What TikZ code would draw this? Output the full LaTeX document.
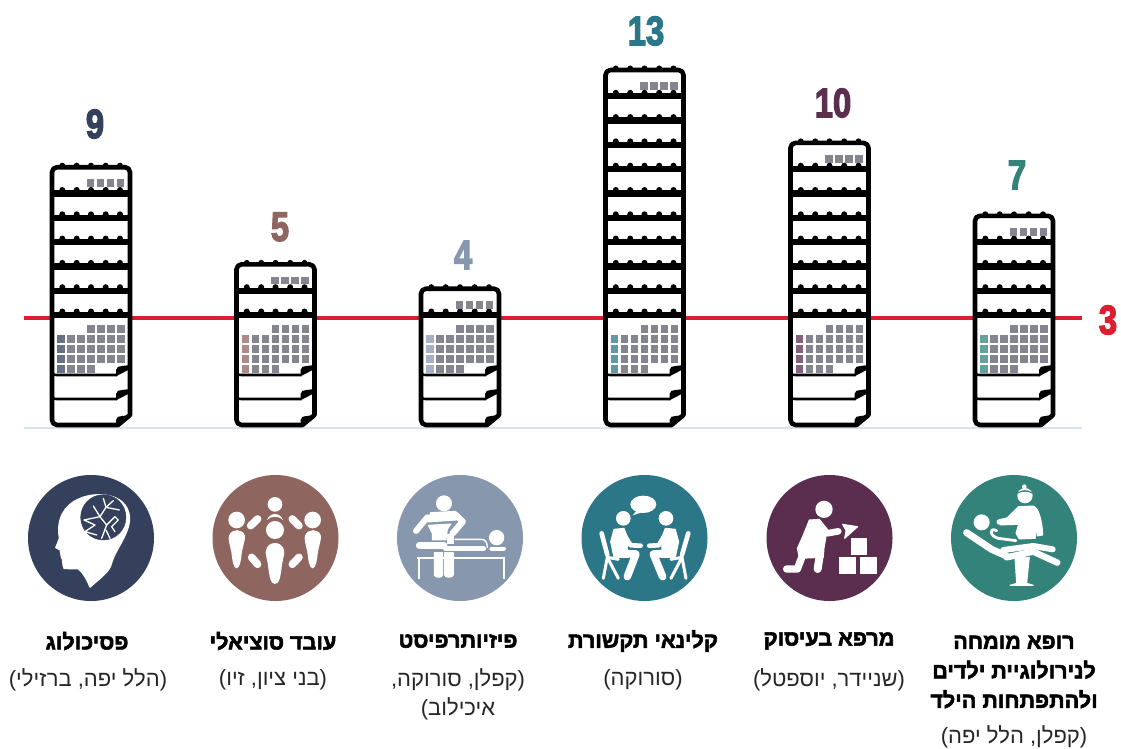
\documentclass[tikz,border=0pt]{standalone}
\usepackage{fontspec}
\TeXXeTstate=1
\newfontfamily\hebb[Script=Hebrew,FakeBold=2.5]{Liberation Sans Bold}
\newfontfamily\hebr[Script=Hebrew]{Liberation Sans}
\newfontfamily\numf[FakeBold=3.5]{Liberation Sans Bold}
\newcommand{\rl}[1]{\beginR #1\endR}
\definecolor{cnavy}{HTML}{34405C}
\definecolor{cbrown}{HTML}{8F6560}
\definecolor{cslate}{HTML}{8797AE}
\definecolor{cteal}{HTML}{2B7788}
\definecolor{cplum}{HTML}{5B2E4F}
\definecolor{cgreen}{HTML}{33837A}
\definecolor{cred}{HTML}{DC1F30}
\definecolor{cbase}{HTML}{D5E3EC}
\definecolor{cgray}{HTML}{85858F}
\tikzset{
  x=1pt,y=-1pt,
  ink/.style={line width=4.6pt,draw=black,line join=round},
  barline/.style={line width=6.4pt,draw=black,line cap=butt},
  cell/.style={minimum size=7.6pt,inner sep=0pt,outer sep=0pt,fill=cgray},
  disc/.style={circle,minimum size=126pt,inner sep=0pt},
  headlabel/.style={font=\hebb\fontsize{21.6}{29.5}\selectfont,align=center,text=black},
  sublabel/.style={font=\hebr\fontsize{22}{29}\selectfont,align=center,text=black!85},
  bignum/.style={font=\numf\fontsize{41}{41}\selectfont},
  wf/.style={fill=white,draw=white,line width=1pt,line join=round},
  wl/.style={draw=white,line cap=round,line join=round},
  zm/.style={x=.3333pt,y=-.3333pt},
}
% \stack{centre x}{count}{colour}
\newcommand{\stack}[3]{%
 \begin{scope}[shift={(#1,0)}]
  \pgfmathsetmacro{\T}{315-(#2-3)*24.3-2}
  \filldraw[ink,fill=white] (27,425) [rounded corners=5pt] -- (-39,425) -- (-39,\T) -- (39,\T) [sharp corners] -- (39,415) -- cycle;
  \foreach \ox in {-28.7,-14.3,0,14.7,29}{\fill (\ox,\T-1.5) circle[radius=3];}
  \pgfmathtruncatemacro{\nb}{#2-4}
  \foreach \k in {0,...,\nb}{
    \pgfmathsetmacro{\Y}{315-\k*24.3}
    \draw[barline] (-39,\Y) -- (39,\Y);
    \foreach \ox in {-28.7,-14.3,0,14.7,29}{\fill (\ox,\Y-3.5) circle[radius=3];}
  }
  \foreach \ox in {-.5,9.5,19.5,29.5}{\node[cell] at (\ox,\T+16) {};}
  % calendar grid
  \foreach \row/\a/\b in {329/4/7,339/1/7,349/1/7,359/1/7,369/1/4}{
    \foreach \c in {\a,...,\b}{
      \pgfmathsetmacro{\cxx}{-30+(\c-1)*10}
      \ifnum\c=1
        \node[cell,fill=#3!75!white] at (\cxx,\row) {};
      \else
        \node[cell] at (\cxx,\row) {};
      \fi
    }
  }
  % curled pages
  \foreach \yy in {375,399}{
    \draw[line width=2.6pt] (-39,\yy-5) .. controls (-39,\yy-1) and (-38,\yy) .. (-34,\yy) -- (26,\yy);
    \fill (25,\yy+1.3) -- (25,\yy-5) .. controls (25,\yy-8) and (28,\yy-9) .. (31,\yy-9) -- (39,\yy-10) -- (39,\yy-6) -- cycle;
  }
  \fill (25,427) -- (25,420) .. controls (25,417) and (28,416) .. (31,416) -- (39,415) -- (39,418) -- cycle;
 \end{scope}}
\begin{document}
\begin{tikzpicture}
\useasboundingbox[fill=white] (0,0) rectangle (1121,749);
\draw[cbase,line width=2pt] (24,428) -- (1082,428);
\draw[cred,line width=3.6pt] (24,318) -- (1082,318);
\stack{91}{9}{cnavy}
\stack{275.5}{5}{cbrown}
\stack{460}{4}{cslate}
\stack{644.5}{13}{cteal}
\stack{829.5}{10}{cplum}
\stack{1014}{7}{cgreen}
% numbers
\node[bignum,text=cnavy] (n1) at (95,124) {\scalebox{.8}[1]{9}};
\node[bignum,text=cbrown] (n2) at (280,227) {\scalebox{.8}[1]{5}};
\node[bignum,text=cslate] (n3) at (463,255) {\scalebox{.8}[1]{4}};
\node[bignum,text=cteal] (n4) at (646,31) {\scalebox{.8}[1]{13}};
\node[bignum,text=cplum] (n5) at (833,103) {\scalebox{.8}[1]{10}};
\node[bignum,text=cgreen] (n6) at (1017,175) {\scalebox{.8}[1]{7}};
\node[bignum,text=cred] (nr) at (1108,320) {\scalebox{.8}[1]{3}};
% discs
\node[disc,fill=cnavy] (d1) at (91,538) {};
\node[disc,fill=cbrown] (d2) at (275.5,538) {};
\node[disc,fill=cslate] (d3) at (460,538) {};
\node[disc,fill=cteal] (d4) at (644.5,538) {};
\node[disc,fill=cplum] (d5) at (829.5,538) {};
\node[disc,fill=cgreen] (d6) at (1014,538) {};
% icon 1: head with brain
\begin{scope}[shift={(0,470)},zm]
 \filldraw[wf] (270,352) .. controls (258,322) and (245,305) .. (235,297) -- (192,296) .. controls (186,285) and (190,268) .. (184,262)
   -- (180,240) -- (167,233) -- (178,205) .. controls (168,150) and (190,105) .. (240,85) .. controls (285,65) and (380,65) .. (389,140)
   .. controls (392,190) and (345,240) .. (335,280) .. controls (330,305) and (300,325) .. (270,352) -- cycle;
 \filldraw[fill=cnavy,draw=cnavy,line width=.4pt] (310,142) circle[radius=68];
 \draw[wl,line width=1.3pt] (310,85) -- (318,112) -- (300,140) -- (280,108);
 \draw[wl,line width=1.3pt] (318,112) -- (340,92);
 \draw[wl,line width=1.3pt] (318,112) -- (358,120);
 \draw[wl,line width=1.3pt] (300,140) -- (252,150) -- (285,165) -- (255,185) -- (290,195);
 \draw[wl,line width=1.3pt] (300,140) -- (320,165) -- (305,205);
 \draw[wl,line width=1.3pt] (320,165) -- (345,140) -- (355,150) -- (335,170) -- (345,185);
 \draw[wl,line width=1.3pt] (318,180) -- (330,205);
\end{scope}
% icon 2: group
\begin{scope}[shift={(0,470)},zm]
 \fill[white] (825,103) circle[radius=22];
 \fill[white] (801,150) .. controls (810,126) and (840,126) .. (849,150) .. controls (838,137) and (812,137) .. (801,150) -- cycle;
 \fill[white] (825,180) circle[radius=27];
 \fill[white] (825,342) .. controls (812,342) and (808,320) .. (804,285) .. controls (800,260) and (795,250) .. (798,240) .. controls (805,212) and (845,212) .. (852,240) .. controls (855,250) and (850,260) .. (846,285) .. controls (842,320) and (838,342) .. (825,342) -- cycle;
 \fill[white] (710,150) circle[radius=25];
 \fill[white] (938,150) circle[radius=25];
 \fill[white] (710,295) .. controls (700,295) and (697,270) .. (694,245) .. controls (688,220) and (684,205) .. (687,197) .. controls (695,175) and (727,175) .. (735,197) .. controls (737,205) and (730,225) .. (726,245) .. controls (723,270) and (720,295) .. (710,295) -- cycle;
 \fill[white] (938,295) .. controls (928,295) and (925,270) .. (922,245) .. controls (916,220) and (912,205) .. (915,197) .. controls (923,175) and (955,175) .. (963,197) .. controls (965,205) and (958,225) .. (954,245) .. controls (951,270) and (948,295) .. (938,295) -- cycle;
 \draw[wl,line width=7.6pt] (752,167) -- (773,147);
 \draw[wl,line width=7.6pt] (877,147) -- (897,167);
 \draw[wl,line width=7.6pt] (755,262) -- (773,283);
 \draw[wl,line width=7.6pt] (877,283) -- (897,262);
\end{scope}
% icon 3: physiotherapist
\begin{scope}[shift={(370,470)},zm]
 \fill[white] (222,100) circle[radius=24];
 \filldraw[wf] (182,128) -- (258,124) -- (258,150) -- (172,156) -- cycle;
 \draw[wl,line width=6pt] (172,142) -- (138,183);
 \draw[wl,line width=6.4pt] (255,133) -- (278,155) -- (248,190);
 \filldraw[wf] (175,166) -- (243,162) -- (232,178) -- (228,210) -- (187,210) -- (187,190) -- cycle;
 \draw[wl,line width=7pt] (148,226) -- (222,226);
 \filldraw[wf] (232,195) -- (250,195) -- (250,222) -- (232,222) -- cycle;
 \fill[white] (380,203) circle[radius=23];
 \draw[wl,line width=5.6pt] (227,236) -- (340,236);
 \draw[wl,line width=1.4pt] (255,208) -- (335,208) .. controls (347,208) and (352,220) .. (352,232);
 \draw[wl,line width=4pt] (364,236) -- (402,236);
 \draw[draw=white,line width=2pt] (142,264) -- (405,264);
 \draw[draw=white,line width=2.2pt] (146,264) -- (146,327);
 \draw[draw=white,line width=2.2pt] (401,264) -- (401,327);
 \filldraw[wf] (193,248) -- (218,248) -- (218,315) .. controls (218,324) and (193,324) .. (193,315) -- cycle;
 \filldraw[wf] (224,248) -- (250,248) -- (250,315) .. controls (250,324) and (224,324) .. (224,315) -- cycle;
\end{scope}
% icon 4: two people talking
\begin{scope}[shift={(370,470)},zm]
 \fill[white] (820,103) ellipse[x radius=39,y radius=26];
 \fill[white] (800,122) -- (788,136) -- (815,127) -- cycle;
 \fill[white] (760,145) circle[radius=22];
 \fill[white] (888,145) circle[radius=22];
 % left person
 \filldraw[wf] (732,178) -- (762,175) -- (772,200) -- (772,240) -- (775,262) -- (732,262) -- (722,215) -- cycle;
 \draw[wl,line width=4.6pt] (760,190) -- (782,226) -- (812,227);
 \draw[wl,line width=7.6pt] (745,250) -- (798,252) -- (772,320);
 % left chair
 \draw[wl,line width=4.6pt] (695,190) -- (712,255);
 \draw[wl,line width=3pt] (712,262) -- (700,325);
 \draw[wl,line width=3pt] (712,262) -- (745,325);
 \draw[wl,line width=3pt] (712,262) -- (745,268);
 % right person
 \filldraw[wf] (916,178) -- (886,175) -- (876,200) -- (876,240) -- (873,262) -- (916,262) -- (926,215) -- cycle;
 \draw[wl,line width=4.6pt] (888,190) -- (866,226) -- (838,227);
 \draw[wl,line width=7.6pt] (903,250) -- (850,252) -- (878,320);
 % right chair
 \draw[wl,line width=4.6pt] (955,190) -- (936,255);
 \draw[wl,line width=3pt] (936,262) -- (948,325);
 \draw[wl,line width=3pt] (936,262) -- (903,325);
 \draw[wl,line width=3pt] (936,262) -- (903,268);
\end{scope}
% icon 5: occupational therapy
\begin{scope}[shift={(740,470)},zm]
 \fill[white] (252,118) circle[radius=26];
 \filldraw[wf] (208,150) -- (238,148) -- (262,178) -- (252,235) -- (250,262) -- (178,265) -- (172,235) -- (190,195) -- cycle;
 \draw[wl,line width=6.6pt] (235,165) -- (262,190) -- (295,184);
 \draw[wl,line width=8pt] (240,250) -- (233,297);
 \draw[wl,line width=7.4pt] (190,250) -- (172,297) -- (140,297);
 \filldraw[wf] (308,163) -- (353,170) -- (314,205) -- (318,182) -- cycle;
 \filldraw[wf] (333,205) rectangle (379,254);
 \filldraw[wf] (299,264) rectangle (347,311);
 \filldraw[wf] (363,264) rectangle (410,311);
\end{scope}
% icon 6: doctor and patient
\begin{scope}[shift={(740,470)},zm]
 \fill[white] (855,77) circle[radius=23];
 \fill[cgreen] (833,68) .. controls (845,58) and (865,58) .. (877,68) -- (877,71) .. controls (865,63) and (845,63) .. (833,71) -- cycle;
 \fill[white] (853,50) circle[radius=7];
 \filldraw[wf] (835,110) -- (880,108) .. controls (900,115) and (908,170) .. (908,195) -- (892,198) -- (886,160) -- (886,205) -- (838,207) -- (828,190) -- (836,163) -- (780,165) -- cycle;
 \draw[wl,line width=5.6pt] (778,156) -- (815,148);
 \fill[white] (725,157) circle[radius=24];
 \draw[wl,line width=7pt] (680,188) -- (755,238) -- (800,258);
 \draw[wl,line width=6pt] (790,240) -- (880,228) -- (938,238);
 \draw[wl,line width=6.4pt] (800,262) -- (880,245) -- (952,278);
 \draw[wl,line width=2.8pt] (770,182) .. controls (745,170) and (750,200) .. (775,205) -- (828,212);
 \filldraw[wf] (825,262) -- (868,262) -- (860,340) -- (880,346) -- (810,346) -- (830,340) -- cycle;
\end{scope}
% labels
\node[headlabel,anchor=center] (h1) at (87,641) {\rl{פסיכולוג}};
\node[sublabel,anchor=center] (s1) at (88,680) {\rl{(הלל יפה, ברזילי)}};
\node[headlabel,anchor=center] (h2) at (273,641) {\rl{עובד סוציאלי}};
\node[sublabel,anchor=center] (s2) at (273,680) {\rl{(בני ציון, זיו)}};
\node[headlabel,anchor=center] (h3) at (458,641) {\rl{פיזיותרפיסט}};
\node[sublabel,anchor=center] (s3) at (458,694) {\rl{(קפלן, סורוקה,}\\\rl{איכילוב)}};
\node[headlabel,anchor=center] (h4) at (643,641) {\rl{קלינאי תקשורת}};
\node[sublabel,anchor=center] (s4) at (643,680) {\rl{(סורוקה)}};
\node[headlabel,anchor=center] (h5) at (829,641) {\rl{מרפא בעיסוק}};
\node[sublabel,anchor=center] (s5) at (829,680) {\rl{(שניידר, יוספטל)}};
\node[headlabel,anchor=center] (h6) at (1014,672) {\rl{רופא מומחה}\\\rl{לנירולוגיית ילדים}\\\rl{ולהתפתחות הילד}};
\node[sublabel,anchor=center] (s6) at (1014,737) {\rl{(קפלן, הלל יפה)}};
\end{tikzpicture}
\end{document}
